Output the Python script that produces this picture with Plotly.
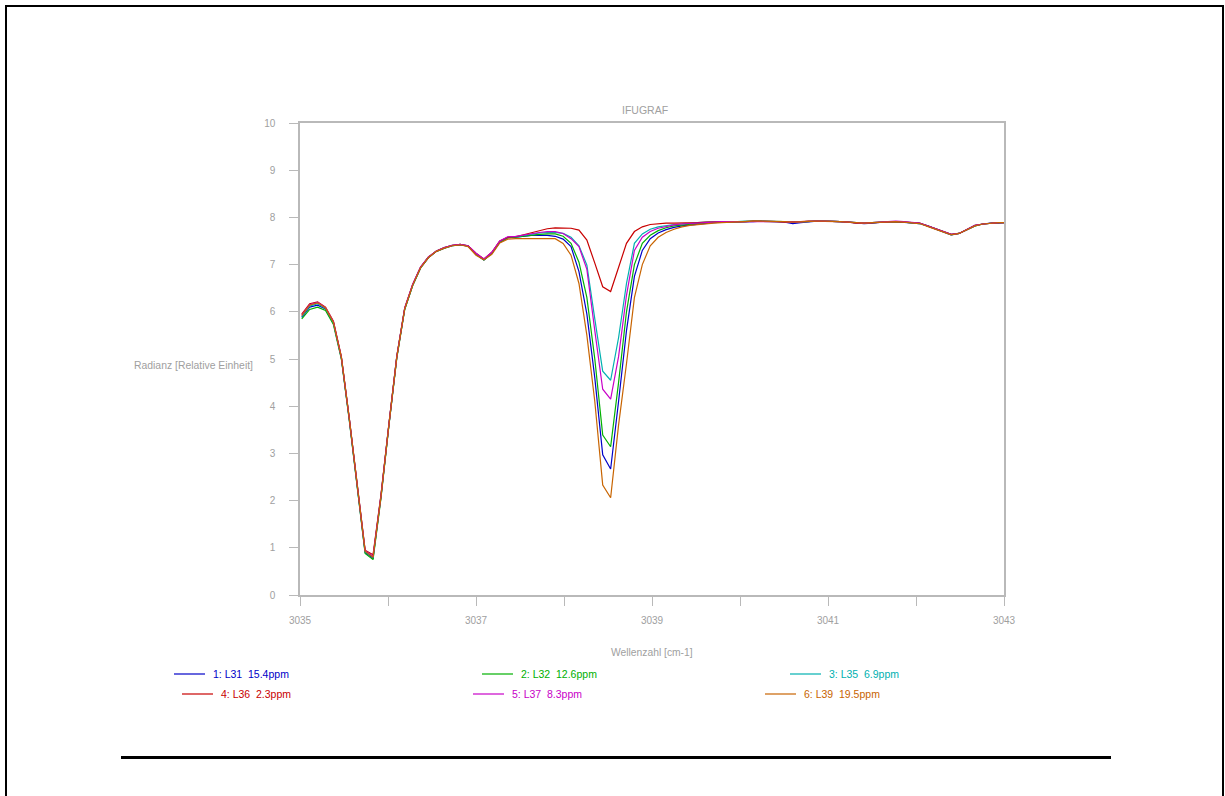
import plotly.graph_objects as go

# ---------------- data ----------------
wavenumber = [
    3035.02, 3035.11, 3035.20, 3035.29, 3035.38, 3035.47, 3035.56, 3035.65, 3035.74, 3035.83,
    3035.92, 3036.01, 3036.10, 3036.19, 3036.28, 3036.37, 3036.46, 3036.55, 3036.64, 3036.73,
    3036.82, 3036.91, 3037.00, 3037.09, 3037.18, 3037.27, 3037.36, 3037.45, 3037.54, 3037.63,
    3037.72, 3037.81, 3037.90, 3037.99, 3038.08, 3038.17, 3038.26, 3038.35, 3038.44, 3038.53,
    3038.62, 3038.71, 3038.80, 3038.89, 3038.98, 3039.07, 3039.16, 3039.25, 3039.34, 3039.43,
    3039.52, 3039.61, 3039.70, 3039.79, 3039.88, 3039.97, 3040.06, 3040.15, 3040.24, 3040.33,
    3040.42, 3040.51, 3040.60, 3040.69, 3040.78, 3040.87, 3040.96, 3041.05, 3041.14, 3041.23,
    3041.32, 3041.41, 3041.50, 3041.59, 3041.68, 3041.77, 3041.86, 3041.95, 3042.04, 3042.13,
    3042.22, 3042.31, 3042.40, 3042.49, 3042.58, 3042.67, 3042.76, 3042.85, 3042.94, 3043.03,
]

l31 = [
    5.88, 6.10, 6.14, 6.06, 5.76, 5.02, 3.72, 2.26, 0.90, 0.78,
    2.08, 3.60, 5.04, 6.06, 6.56, 6.93, 7.15, 7.28, 7.35, 7.40,
    7.42, 7.39, 7.22, 7.10, 7.24, 7.47, 7.57, 7.58, 7.60, 7.62,
    7.62, 7.62, 7.60, 7.54, 7.38, 6.85, 5.95, 4.60, 2.97, 2.67,
    4.10, 5.60, 6.75, 7.30, 7.55, 7.67, 7.74, 7.79, 7.82, 7.84,
    7.86, 7.88, 7.89, 7.90, 7.90, 7.91, 7.91, 7.91, 7.92, 7.92,
    7.91, 7.90, 7.87, 7.89, 7.91, 7.92, 7.92, 7.92, 7.91, 7.90,
    7.88, 7.87, 7.88, 7.90, 7.91, 7.91, 7.90, 7.89, 7.87, 7.82,
    7.76, 7.69, 7.63, 7.66, 7.74, 7.82, 7.86, 7.88, 7.88, 7.89,
]
l32 = [
    5.85, 6.05, 6.10, 6.03, 5.73, 5.00, 3.70, 2.25, 0.88, 0.75,
    2.05, 3.58, 5.02, 6.05, 6.55, 6.93, 7.15, 7.28, 7.35, 7.40,
    7.42, 7.39, 7.22, 7.10, 7.24, 7.48, 7.57, 7.58, 7.60, 7.63,
    7.64, 7.65, 7.65, 7.60, 7.45, 7.05, 6.30, 5.00, 3.39, 3.14,
    4.50, 6.00, 7.00, 7.45, 7.62, 7.72, 7.78, 7.82, 7.84, 7.86,
    7.87, 7.89, 7.90, 7.90, 7.91, 7.91, 7.91, 7.92, 7.92, 7.92,
    7.92, 7.91, 7.90, 7.91, 7.92, 7.92, 7.92, 7.92, 7.91, 7.90,
    7.89, 7.88, 7.89, 7.90, 7.91, 7.91, 7.90, 7.89, 7.88, 7.82,
    7.76, 7.70, 7.64, 7.66, 7.74, 7.82, 7.86, 7.88, 7.89, 7.89,
]
l35 = [
    5.90, 6.12, 6.17, 6.07, 5.77, 5.03, 3.73, 2.28, 0.92, 0.80,
    2.10, 3.60, 5.05, 6.07, 6.57, 6.94, 7.16, 7.29, 7.36, 7.41,
    7.43, 7.40, 7.23, 7.11, 7.25, 7.49, 7.58, 7.59, 7.62, 7.65,
    7.67, 7.68, 7.68, 7.66, 7.58, 7.40, 6.99, 5.85, 4.74, 4.55,
    5.45, 6.60, 7.45, 7.65, 7.75, 7.80, 7.83, 7.85, 7.86, 7.88,
    7.89, 7.90, 7.90, 7.91, 7.91, 7.91, 7.92, 7.92, 7.92, 7.92,
    7.91, 7.91, 7.90, 7.91, 7.92, 7.92, 7.92, 7.92, 7.91, 7.90,
    7.89, 7.88, 7.89, 7.90, 7.91, 7.91, 7.90, 7.89, 7.87, 7.82,
    7.76, 7.70, 7.63, 7.66, 7.74, 7.83, 7.86, 7.88, 7.89, 7.89,
]
l36 = [
    5.95, 6.17, 6.21, 6.10, 5.80, 5.05, 3.75, 2.30, 0.95, 0.85,
    2.12, 3.62, 5.06, 6.08, 6.58, 6.95, 7.16, 7.29, 7.36, 7.41,
    7.43, 7.40, 7.24, 7.12, 7.26, 7.50, 7.58, 7.59, 7.63, 7.68,
    7.72, 7.76, 7.78, 7.78, 7.77, 7.73, 7.52, 7.03, 6.53, 6.43,
    6.95, 7.45, 7.70, 7.80, 7.85, 7.87, 7.88, 7.88, 7.88, 7.89,
    7.89, 7.90, 7.90, 7.90, 7.91, 7.91, 7.91, 7.92, 7.92, 7.92,
    7.91, 7.90, 7.90, 7.91, 7.92, 7.92, 7.92, 7.92, 7.91, 7.90,
    7.88, 7.88, 7.89, 7.90, 7.91, 7.91, 7.90, 7.89, 7.88, 7.82,
    7.76, 7.70, 7.64, 7.66, 7.75, 7.83, 7.86, 7.88, 7.89, 7.89,
]
l37 = [
    5.93, 6.15, 6.20, 6.09, 5.79, 5.04, 3.74, 2.29, 0.94, 0.82,
    2.10, 3.61, 5.05, 6.08, 6.58, 6.95, 7.16, 7.29, 7.36, 7.41,
    7.43, 7.40, 7.24, 7.12, 7.26, 7.50, 7.59, 7.60, 7.63, 7.66,
    7.68, 7.70, 7.70, 7.66, 7.55, 7.38, 6.90, 5.60, 4.36, 4.15,
    5.05, 6.35, 7.30, 7.58, 7.70, 7.77, 7.81, 7.84, 7.86, 7.87,
    7.88, 7.90, 7.90, 7.91, 7.91, 7.91, 7.92, 7.92, 7.92, 7.92,
    7.91, 7.91, 7.90, 7.91, 7.92, 7.92, 7.92, 7.92, 7.91, 7.90,
    7.89, 7.88, 7.89, 7.90, 7.91, 7.92, 7.91, 7.89, 7.88, 7.82,
    7.76, 7.70, 7.64, 7.66, 7.75, 7.83, 7.86, 7.88, 7.89, 7.89,
]
l39 = [
    5.92, 6.14, 6.19, 6.08, 5.78, 5.04, 3.74, 2.28, 0.93, 0.80,
    2.08, 3.60, 5.04, 6.06, 6.56, 6.93, 7.15, 7.28, 7.35, 7.40,
    7.42, 7.38, 7.20, 7.10, 7.22, 7.46, 7.54, 7.55, 7.55, 7.56,
    7.56, 7.56, 7.55, 7.45, 7.20, 6.60, 5.50, 4.10, 2.33, 2.06,
    3.60, 4.90, 6.30, 7.00, 7.40, 7.58, 7.68, 7.75, 7.80, 7.83,
    7.85, 7.87, 7.88, 7.89, 7.90, 7.91, 7.91, 7.92, 7.92, 7.92,
    7.91, 7.91, 7.90, 7.91, 7.92, 7.92, 7.92, 7.92, 7.91, 7.90,
    7.89, 7.88, 7.89, 7.90, 7.91, 7.91, 7.90, 7.89, 7.87, 7.81,
    7.75, 7.69, 7.63, 7.66, 7.74, 7.82, 7.86, 7.88, 7.89, 7.89,
]

series_values = [l31, l32, l35, l36, l37, l39]
series_labels = ["1: L31  15.4ppm", "2: L32  12.6ppm", "3: L35  6.9ppm",
                 "4: L36  2.3ppm", "5: L37  8.3ppm", "6: L39  19.5ppm"]
series_colors = ["#0000c8", "#00b000", "#00b0b0", "#c80000", "#c800c8", "#c86400"]

x_ticks = [3035, 3036, 3037, 3038, 3039, 3040, 3041, 3042, 3043]
x_tick_text = ["3035", "", "3037", "", "3039", "", "3041", "", "3043"]
y_ticks = [0, 1, 2, 3, 4, 5, 6, 7, 8, 9, 10]

chart_title = "IFUGRAF"
x_title = "Wellenzahl [cm-1]"
y_title = "Radianz [Relative Einheit]"

# ---------------- layout geometry (pixels) ----------------
W, H = 1225, 796
PL, PR, PT, PB = 300, 1004, 123, 595
GRAY_TXT = "#a0a0a0"
GRAY_AX = "#b9b9b9"
FONT = "Liberation Sans, Arial, sans-serif"


def px_x(p):
    return (p - PL) / (PR - PL)


def px_y(p):
    return (PB - p) / (PB - PT)


fig = go.Figure()
for vals, name, col in zip(series_values, series_labels, series_colors):
    fig.add_trace(go.Scatter(x=wavenumber, y=vals, mode="lines", name=name,
                             line=dict(color=col, width=1.2), showlegend=False))

axis_common = dict(showline=True, linecolor=GRAY_AX, linewidth=1.5, mirror=True,
                   ticks="outside", ticklen=9, tickcolor=GRAY_AX, tickwidth=1.3,
                   showgrid=False, zeroline=False,
                   tickfont=dict(family=FONT, size=10, color=GRAY_TXT))

fig.update_xaxes(range=[3035, 3043], tickmode="array", tickvals=x_ticks,
                 ticktext=x_tick_text, ticklabelstandoff=6, **axis_common)
fig.update_yaxes(range=[0, 10], tickmode="array", tickvals=y_ticks,
                 ticklabelstandoff=12, **axis_common)

annotations = [
    dict(text=chart_title, x=px_x(645), y=px_y(110), xanchor="center", yanchor="middle",
         font=dict(family=FONT, size=10.5, color=GRAY_TXT)),
    dict(text=x_title, x=px_x(652), y=px_y(652), xanchor="center", yanchor="middle",
         font=dict(family=FONT, size=10.3, color=GRAY_TXT)),
    dict(text=y_title, x=px_x(255), y=px_y(365), xanchor="right", yanchor="middle",
         font=dict(family=FONT, size=10.4, color=GRAY_TXT)),
]

shapes = [
    # outer frame
    dict(type="rect", x0=px_x(6), x1=px_x(1223), y0=px_y(6), y1=px_y(810),
         line=dict(color="black", width=2)),
    # bottom rule
    dict(type="line", x0=px_x(121), x1=px_x(1111), y0=px_y(757.5), y1=px_y(757.5),
         line=dict(color="black", width=3)),
]

# custom legend (two rows, three columns)
legend_pos = [(174, 674), (482, 674), (790, 674), (182, 694), (473, 694), (765, 694)]
for (lx, ly), name, col in zip(legend_pos, series_labels, series_colors):
    shapes.append(dict(type="line", x0=px_x(lx), x1=px_x(lx + 31), y0=px_y(ly), y1=px_y(ly),
                       line=dict(color=col, width=1.2)))
    annotations.append(dict(text=name, x=px_x(lx + 37), y=px_y(ly), xanchor="left",
                            yanchor="middle",
                            font=dict(family=FONT, size=10.5, color=col)))

for a in annotations:
    a.update(xref="paper", yref="paper", showarrow=False)
for s in shapes:
    s.update(xref="paper", yref="paper", layer="above")

fig.update_layout(
    width=W, height=H, autosize=False,
    margin=dict(l=PL, r=W - PR, t=PT, b=H - PB, pad=0),
    paper_bgcolor="white", plot_bgcolor="white",
    showlegend=False,
    annotations=annotations, shapes=shapes,
    font=dict(family=FONT),
)

fig.write_html("out.html", config={"displayModeBar": False},
               post_script="document.body.style.margin='0px';document.body.style.overflow='hidden';")
